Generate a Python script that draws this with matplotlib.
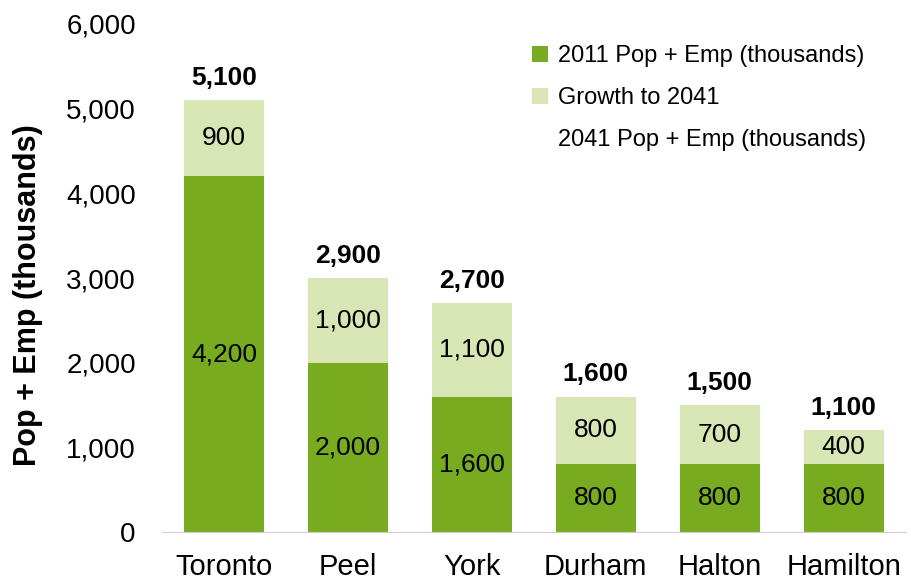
import matplotlib.pyplot as plt
import numpy as np

plt.rcParams['font.family'] = ['Liberation Sans', 'DejaVu Sans']

regions = ['Toronto', 'Peel', 'York', 'Durham', 'Halton', 'Hamilton']
pop_emp_2011 = [4200, 2000, 1600, 800, 800, 800]
growth_2041 = [900, 1000, 1100, 800, 700, 400]
total_2041 = [5100, 2900, 2700, 1600, 1500, 1100]

dark_green = '#78AB1F'
light_green = '#D8E6B6'

fig = plt.figure(figsize=(9.11, 5.81), dpi=100)
ax = fig.add_axes([0.178, 0.0843, 0.816, 0.8744])

x = np.arange(len(regions))
w = 0.645
ax.bar(x, pop_emp_2011, w, color=dark_green, label='2011 Pop + Emp (thousands)')
ax.bar(x, growth_2041, w, bottom=pop_emp_2011, color=light_green, label='Growth to 2041')
ax.bar(x, [0] * len(x), w, color='none', label='2041 Pop + Emp (thousands)')

for i in range(len(x)):
    ax.text(x[i], pop_emp_2011[i] / 2, f'{pop_emp_2011[i]:,}', ha='center', va='center', fontsize=19)
    ax.text(x[i], pop_emp_2011[i] + growth_2041[i] / 2, f'{growth_2041[i]:,}', ha='center', va='center', fontsize=19)
    top = pop_emp_2011[i] + growth_2041[i]
    ax.text(x[i], top + 120, f'{total_2041[i]:,}', ha='center', va='bottom', fontsize=19, fontweight='bold')

ax.set_ylim(0, 6000)
ax.set_xlim(-0.5, len(x) - 0.5)
ax.set_yticks(range(0, 6001, 1000))
ax.set_yticklabels([f'{v:,}' for v in range(0, 6001, 1000)])
ax.set_xticks(x)
ax.set_xticklabels(regions)
ax.tick_params(axis='y', length=0, labelsize=20, pad=19)
ax.tick_params(axis='x', length=0, labelsize=21, pad=15)
ax.set_ylabel('Pop + Emp (thousands)', fontsize=22, fontweight='bold')
ax.yaxis.set_label_coords(-0.16, 0.467)

for s in ['top', 'right', 'left']:
    ax.spines[s].set_visible(False)
ax.spines['bottom'].set_color('#D0D0D0')

ax.legend(loc='upper right', bbox_to_anchor=(0.975, 1.0), frameon=False, fontsize=17,
          handlelength=0.7, handleheight=0.7, handletextpad=0.4, labelspacing=0.85)

fig.savefig('out.png', dpi=100)
